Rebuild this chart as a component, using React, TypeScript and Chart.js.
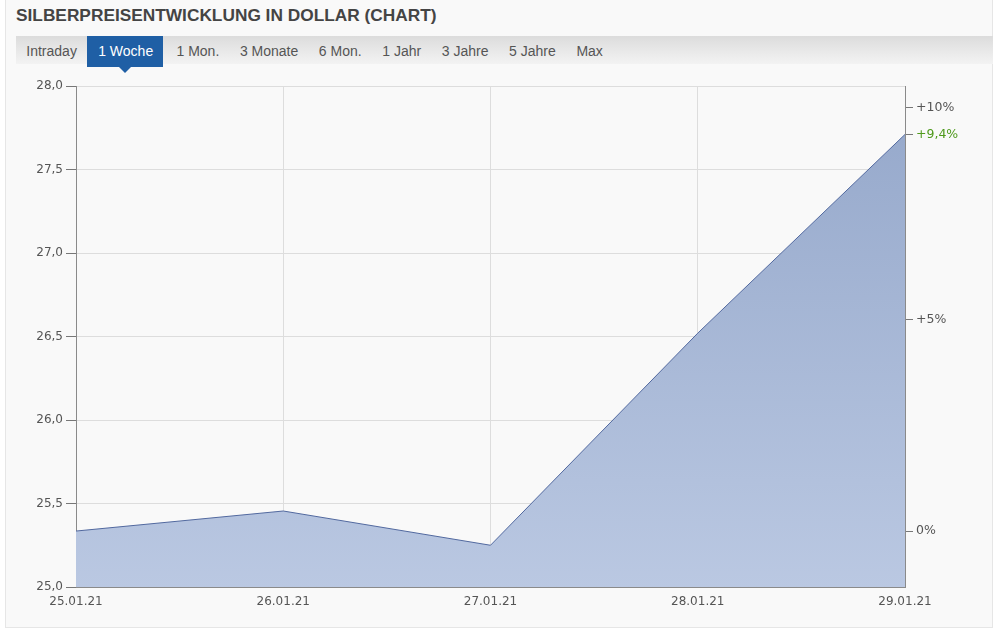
import React, { useEffect, useRef } from "react";
import { Chart, registerables } from "chart.js";

Chart.register(...registerables);

const categories: string[] = ["25.01.21", "26.01.21", "27.01.21", "28.01.21", "29.01.21"];
const prices: number[] = [25.335, 25.455, 25.25, 26.52, 27.71];
const percentTicks: number[] = [0, 5, 10];
const tabs: string[] = ["Intraday", "1 Woche", "1 Mon.", "3 Monate", "6 Mon.", "1 Jahr", "3 Jahre", "5 Jahre", "Max"];
const activeTab = "1 Woche";
const title = "SILBERPREISENTWICKLUNG IN DOLLAR (CHART)";

const fmtPrice = (v: number) => v.toFixed(1).replace(".", ",");
const fmtPct = (p: number) => {
  const r = Math.abs(p - Math.round(p)) < 0.05 ? String(Math.round(p)) : p.toFixed(1).replace(".", ",");
  return (p > 0.05 ? "+" : "") + r + "%";
};

export default function App() {
  const ref = useRef<HTMLCanvasElement | null>(null);

  useEffect(() => {
    if (!ref.current) return;
    const base = prices[0];
    const last = prices[prices.length - 1];
    const font = { family: "'DejaVu Sans', sans-serif", size: 12 };
    const chart = new Chart(ref.current, {
      type: "line",
      data: {
        labels: categories,
        datasets: [
          {
            data: prices,
            borderColor: "#52699f",
            borderWidth: 1,
            pointRadius: 0,
            tension: 0,
            fill: "start",
            backgroundColor: (ctx: any) => {
              const area = ctx.chart.chartArea;
              if (!area) return "rgba(160,178,210,0.9)";
              const g = ctx.chart.ctx.createLinearGradient(0, area.top, 0, area.bottom);
              g.addColorStop(0, "#94a7ca");
              g.addColorStop(1, "#bac8e2");
              return g;
            },
            yAxisID: "y",
          },
        ],
      },
      options: {
        responsive: false,
        animation: false,
        layout: { padding: { top: 16, left: 0, right: 0, bottom: 0 } },
        plugins: { legend: { display: false }, tooltip: { enabled: false }, title: { display: false } },
        scales: {
          x: {
            type: "category",
            offset: false,
            grid: { color: "#dddddd", drawTicks: false, tickLength: 0 },
            border: { display: true, color: "#8a8a8a" },
            ticks: { color: "#555555", font, padding: 8, maxRotation: 0, autoSkip: false },
            afterFit: (s: any) => { s.height = 43; },
          },
          y: {
            position: "left",
            min: 25,
            max: 28,
            grid: { color: "#dddddd", tickLength: 10, tickColor: "#777777", drawTicks: true },
            border: { display: true, color: "#8a8a8a" },
            ticks: { stepSize: 0.5, color: "#555555", font, padding: 3, callback: (v: any) => fmtPrice(Number(v)) },
            afterFit: (s: any) => { s.width = 76; },
          },
          y2: {
            position: "right",
            min: 25,
            max: 28,
            grid: { drawOnChartArea: false, tickLength: 8, tickColor: "#777777", drawTicks: true },
            border: { display: true, color: "#8a8a8a" },
            afterBuildTicks: (s: any) => {
              const t = percentTicks.map((p) => ({ value: base * (1 + p / 100) }));
              t.push({ value: last });
              s.ticks = t;
            },
            ticks: {
              autoSkip: false,
              font: { family: "'DejaVu Sans', sans-serif", size: 12.5 },
              padding: 3,
              color: (ctx: any) => (ctx.index === percentTicks.length ? "#4f9a1c" : "#555555"),
              callback: (v: any) => fmtPct((Number(v) / base - 1) * 100),
            },
            afterFit: (s: any) => { s.width = 91; },
          },
        },
      },
    } as any);
    return () => chart.destroy();
  }, []);

  return (
    <div style={{ position: "absolute", left: 0, top: 0, width: 996, height: 636, background: "#ffffff", overflow: "hidden", fontFamily: "'Liberation Sans', Arial, sans-serif" }}>
      <div style={{ position: "absolute", left: 5, top: -1, width: 986, height: 627, background: "#f9f9f9", border: "1px solid #e6e6e6" }} />
      <div style={{ position: "absolute", left: 16, top: 5, fontSize: 17.3, fontWeight: "bold", color: "#444444", whiteSpace: "nowrap" }}>{title}</div>
      <div style={{ position: "absolute", left: 16, top: 36, width: 977, height: 28, background: "linear-gradient(#dcdcdc, #f3f3f3)", display: "flex", alignItems: "stretch" }}>
        {tabs.map((t) => {
          const act = t === activeTab;
          return (
            <div key={t} style={{ position: "relative", padding: act ? "0 10px 0 11px" : "0 10.3px", marginRight: act ? 3 : 0, height: act ? 31 : 28, lineHeight: "30px", fontSize: 14, color: act ? "#ffffff" : "#555555", background: act ? "#1f5fa5" : "transparent", whiteSpace: "nowrap" }}>
              {t}
              {act && (
                <div style={{ position: "absolute", left: "50%", marginLeft: -6, top: 31, width: 0, height: 0, borderLeft: "6px solid transparent", borderRight: "6px solid transparent", borderTop: "6px solid #1f5fa5" }} />
              )}
            </div>
          );
        })}
      </div>
      <canvas ref={ref} width={996} height={560} style={{ position: "absolute", left: 0, top: 70, width: 996, height: 560 }} />
    </div>
  );
}
